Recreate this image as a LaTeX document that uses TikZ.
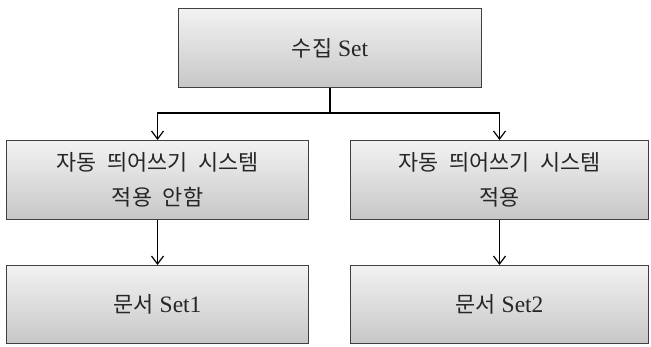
\documentclass[tikz,border=0pt]{standalone}
\usepackage{fontspec}
\setmainfont{Liberation Serif}
\newfontfamily\kr{Noto Sans CJK KR}[Scale=0.93, WordSpace=2.2]
\usetikzlibrary{arrows.meta}
\begin{document}
\begin{tikzpicture}[x=1pt,y=-1pt,
  boxstyle/.style={draw=black!75, line width=1.1pt, top color=black!5, bottom color=black!22,
    minimum width=302pt, minimum height=79pt, inner sep=0pt, align=center,
    font=\fontsize{23.5}{34}\selectfont, text=black!85, anchor=north west},
  conn/.style={draw=black, line width=1.4pt},
  arr/.style={conn, -{Straight Barb[length=8pt,width=12pt,line width=1.2pt]}}
]
\useasboundingbox (0,0) rectangle (651,346);
\node[boxstyle, minimum width=303pt] (top) at (178,8) {{\kr 수집} Set};
\node[boxstyle] (ml) at (6,140) {{\kr 자동 띄어쓰기 시스템}\\[1pt]{\kr 적용 안함}};
\node[boxstyle, minimum width=298pt] (mr) at (350,140) {{\kr 자동 띄어쓰기 시스템}\\[1pt]{\kr 적용}};
\node[boxstyle, minimum height=78pt] (bl) at (6,265) {{\kr 문서} Set1};
\node[boxstyle, minimum width=298pt, minimum height=78pt] (br) at (350,265) {{\kr 문서} Set2};
\coordinate (j) at (330,113);
\draw[conn] (top.south -| j) -- (j);
\draw[arr] (j) -| (ml.north);
\draw[arr] (j) -| (mr.north);
\draw[arr] (ml.south) -- (bl.north);
\draw[arr] (mr.south) -- (br.north);
\end{tikzpicture}
\end{document}
